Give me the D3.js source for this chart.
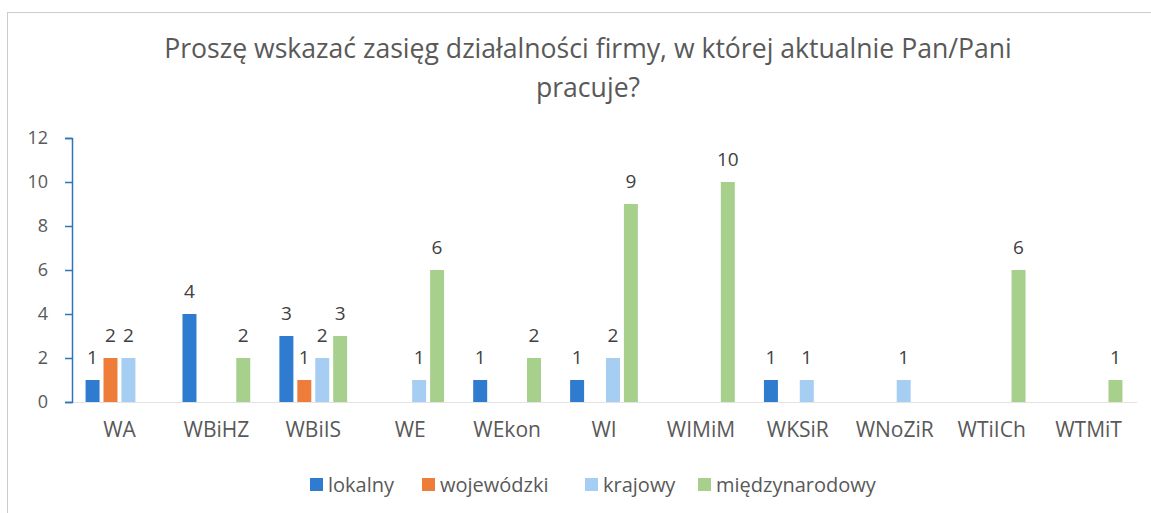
<!DOCTYPE html>
<html lang="pl">
<head>
    <meta charset="UTF-8">
    <title>Zasięg działalności firmy</title>
    <script src="https://d3js.org/d3.v7.min.js"></script>
    <style>
        body { margin: 0; background: #fff; }
        svg text { font-family: "Open Sans", sans-serif; }
    </style>
</head>
<body>
    <svg width="1151" height="513"></svg>
    <script>
        var categories = ["WA", "WBiHZ", "WBiIS", "WE", "WEkon", "WI", "WIMiM", "WKSiR", "WNoZiR", "WTiICh", "WTMiT"];
        var seriesNames = ["lokalny", "wojewódzki", "krajowy", "międzynarodowy"];
        var lokalny        = [1, 4, 3, 0, 1, 1, 0, 1, 0, 0, 0];
        var wojewodzki     = [2, 0, 1, 0, 0, 0, 0, 0, 0, 0, 0];
        var krajowy        = [2, 0, 2, 1, 0, 2, 0, 1, 1, 0, 0];
        var miedzynarodowy = [0, 2, 3, 6, 2, 9, 10, 0, 0, 6, 1];
        var yTicks = [0, 2, 4, 6, 8, 10, 12];
        var colors = ["#2e7bd0", "#ef7d3a", "#a6cdf2", "#a8d08d"];

        (function() {
            var seriesValues = [lokalny, wojewodzki, krajowy, miedzynarodowy];
            var data = categories.map(function(c, i) {
                return { cat: c, vals: seriesValues.map(function(s, j) { return { key: seriesNames[j], idx: j, v: s[i] }; }) };
            });

            var svg = d3.select("svg");

            // frame
            svg.append("rect")
                .attr("x", 7.5).attr("y", 12.5)
                .attr("width", 1160).attr("height", 520)
                .attr("fill", "none").attr("stroke", "#cccccc");

            // title
            var title = svg.append("text")
                .attr("text-anchor", "middle")
                .style("font-size", "26.6px")
                .style("fill", "#595959");
            title.append("tspan").attr("x", 588).attr("y", 58)
                .text("Proszę wskazać zasięg działalności firmy, w której aktualnie Pan/Pani");
            title.append("tspan").attr("x", 588).attr("y", 97).text("pracuje?");

            var plotLeft = 71, plotRight = 1137, plotTop = 138, plotBottom = 402;

            var x0 = d3.scaleBand().domain(categories).range([plotLeft, plotRight])
                .paddingInner(0.26).paddingOuter(0.13);
            var x1 = d3.scaleBand().domain(seriesNames).range([0, x0.bandwidth()])
                .paddingInner(0.22).paddingOuter(0.11);
            var y = d3.scaleLinear().domain([0, 12]).range([plotBottom, plotTop]);

            // x baseline
            svg.append("line")
                .attr("x1", plotLeft).attr("x2", plotRight)
                .attr("y1", y(0) + 0.5).attr("y2", y(0) + 0.5)
                .attr("stroke", "#e3e3e3");

            // y axis
            var yAxis = svg.append("g")
                .attr("transform", "translate(" + (plotLeft + 1) + ",0)")
                .call(d3.axisLeft(y).tickValues(yTicks).tickSize(7).tickPadding(17));
            yAxis.select(".domain").attr("stroke", "#2e75b6").attr("stroke-width", 1.5);
            yAxis.selectAll(".tick line").attr("stroke", "#2e75b6").attr("stroke-width", 1.5);
            yAxis.selectAll(".tick text")
                .style("font-size", "18px").style("fill", "#595959").style("font-family", null);

            // x labels
            svg.append("g")
                .attr("transform", "translate(0," + y(0) + ")")
                .call(d3.axisBottom(x0).tickSize(0).tickPadding(20))
                .call(function(g) { g.select(".domain").remove(); })
                .selectAll("text")
                .style("font-size", "21px").style("fill", "#595959").style("font-family", null);

            // bars
            var groups = svg.selectAll(".grp")
                .data(data)
                .enter().append("g")
                .attr("class", "grp")
                .attr("transform", function(d) { return "translate(" + x0(d.cat) + ",0)"; });

            groups.selectAll("rect")
                .data(function(d) { return d.vals.filter(function(v) { return v.v > 0; }); })
                .enter().append("rect")
                .attr("x", function(d) { return x1(d.key); })
                .attr("y", function(d) { return y(d.v); })
                .attr("width", x1.bandwidth())
                .attr("height", function(d) { return y(0) - y(d.v); })
                .attr("fill", function(d) { return colors[d.idx]; });

            groups.selectAll(".lbl")
                .data(function(d) { return d.vals.filter(function(v) { return v.v > 0; }); })
                .enter().append("text")
                .attr("class", "lbl")
                .attr("x", function(d) { return x1(d.key) + x1.bandwidth() / 2; })
                .attr("y", function(d) { return y(d.v) - 16; })
                .attr("text-anchor", "middle")
                .style("font-size", "19px")
                .style("fill", "#404040")
                .text(function(d) { return d.v; });

            // legend
            var legendX = [310, 422, 585, 698];
            var legend = svg.selectAll(".leg")
                .data(seriesNames)
                .enter().append("g")
                .attr("class", "leg")
                .attr("transform", function(d, i) { return "translate(" + legendX[i] + ",478)"; });
            legend.append("rect")
                .attr("width", 13).attr("height", 13)
                .attr("fill", function(d, i) { return colors[i]; });
            legend.append("text")
                .attr("x", 18).attr("y", 14)
                .style("font-size", "20px").style("fill", "#595959")
                .text(function(d) { return d; });
        })();
    </script>
</body>
</html>
